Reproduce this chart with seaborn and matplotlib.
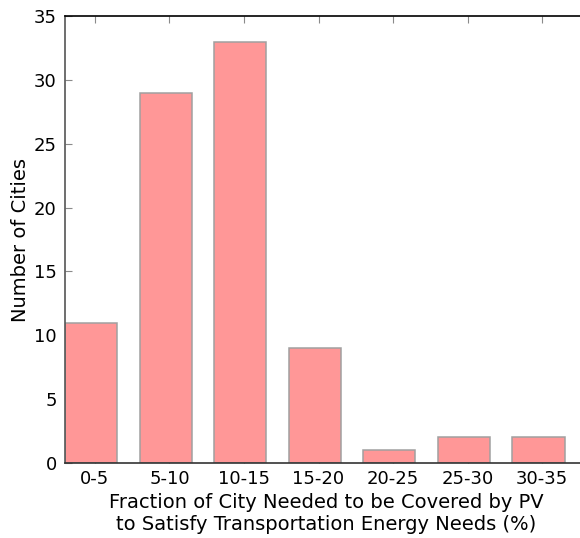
import matplotlib
matplotlib.use("Agg")
import matplotlib.pyplot as plt
import seaborn as sns
import numpy as np
import pandas as pd

categories = ["0-5", "5-10", "10-15", "15-20", "20-25", "25-30", "30-35"]
counts = [11, 29, 33, 9, 1, 2, 2]
yticks = [0, 5, 10, 15, 20, 25, 30, 35]

sns.set_style("white")
plt.rcParams['font.family'] = ['DejaVu Sans']
plt.rcParams['text.color'] = 'black'
plt.rcParams['axes.labelcolor'] = 'black'
plt.rcParams['xtick.labelcolor'] = 'black'
plt.rcParams['ytick.labelcolor'] = 'black'

df = pd.DataFrame({"range": categories, "count": counts})

fig = plt.figure(figsize=(5.8, 5.38), dpi=100)
ax = fig.add_axes([65/580, 1 - 463/538, (587 - 65)/580, (463 - 16)/538])

sns.barplot(data=df, x="range", y="count", ax=ax, width=0.7,
            color="#ff9797", saturation=1, edgecolor="#a0a0a0", linewidth=1.1)

ax.set_xlim(-0.35, 6.65)
ax.set_ylim(0, 35)
ax.set_xticks(np.arange(len(categories)) + 0.05)
ax.set_xticklabels(categories, fontsize=13)
ax.set_yticks(yticks)
ax.set_yticklabels([str(v) for v in yticks], fontsize=13)

ax.tick_params(axis="x", direction="in", length=5, color="#8a8a8a", top=True, bottom=True, pad=5)
ax.tick_params(axis="y", direction="in", length=5, color="#8a8a8a", left=True, right=False, pad=6)

for s in ["top", "bottom", "left"]:
    ax.spines[s].set_visible(True)
    ax.spines[s].set_linewidth(1.2)
ax.spines["right"].set_visible(False)
ax.spines["top"].set_color("black")
ax.spines["bottom"].set_color("#333333")
ax.spines["left"].set_color("#555555")

ax.set_xlabel("Fraction of City Needed to be Covered by PV\nto Satisfy Transportation Energy Needs (%)",
              fontsize=14, labelpad=4)
ax.set_ylabel("Number of Cities", fontsize=14, labelpad=3)

fig.savefig("out.png", dpi=100)
